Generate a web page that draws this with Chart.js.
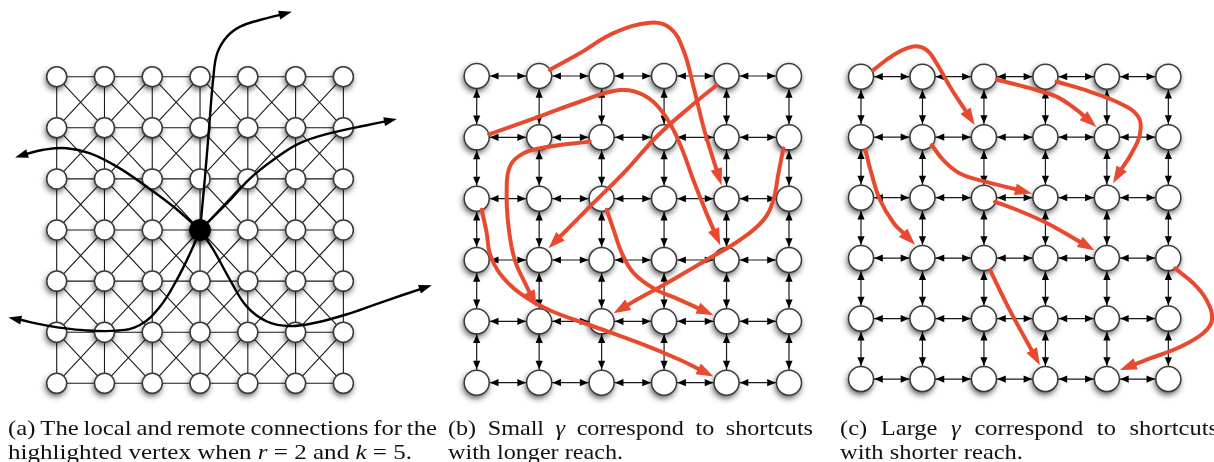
<!DOCTYPE html>
<html>
<head>
<meta charset="utf-8">
<script src="https://cdn.jsdelivr.net/npm/chart.js@4.4.0/dist/chart.umd.min.js"></script>
<style>
  html, body { margin: 0; padding: 0; background: #fff; }
  canvas { display: block; }
</style>
</head>
<body>
<canvas id="fig" width="1214" height="462"></canvas>
<script>
// lattice sizes (grid units)
const colsA = [0, 1, 2, 3, 4, 5, 6];
const rowsA = [0, 1, 2, 3, 4, 5, 6];
const colsB = [0, 1, 2, 3, 4, 5];
const rowsB = [0, 1, 2, 3, 4, 5];
const colsC = [0, 1, 2, 3, 4, 5];
const rowsC = [0, 1, 2, 3, 4, 5];
const hubA = [3, 3];

// remote links of the hub in (a): waypoints in grid units, last one is the arrow tip
const linksA = [
  [[3, 3], [3.10, 2.00], [3.19, 0.99], [3.28, 0], [3.36, -0.46], [3.56, -0.78], [3.84, -0.98], [4.25, -1.11], [4.92, -1.27]],
  [[3, 3], [3.56, 2.48], [4.05, 1.99], [4.53, 1.63], [5.09, 1.30], [5.79, 1.09], [6.49, 0.95], [7.12, 0.83]],
  [[3, 3], [2.44, 2.54], [1.88, 2.15], [1.26, 1.76], [0.70, 1.50], [0.21, 1.40], [-0.28, 1.43], [-0.63, 1.51], [-0.87, 1.58]],
  [[3, 3], [2.79, 3.46], [2.51, 3.98], [2.16, 4.50], [1.74, 4.86], [1.26, 4.97], [0.56, 4.96], [-0.14, 4.88], [-1.01, 4.71]],
  [[3, 3], [3.28, 3.39], [3.63, 3.98], [3.98, 4.50], [4.40, 4.79], [4.88, 4.88], [5.44, 4.81], [6.14, 4.63], [6.84, 4.40], [7.85, 4.08]]
];

// shortcuts in (b), small gamma
const shortcutsB = [
  [[1.17, -0.10], [1.65, -0.37], [2.19, -0.70], [2.78, -0.87], [3.10, -0.78], [3.31, -0.42], [3.47, 0.17], [3.63, 0.83], [3.79, 1.37], [3.92, 1.78]],
  [[0.20, 0.95], [1.01, 0.66], [1.65, 0.42], [2.29, 0.23], [2.67, 0.31], [2.99, 0.61], [3.25, 1.10], [3.47, 1.70], [3.68, 2.24], [3.90, 2.76]],
  [[3.84, 0.15], [3.42, 0.50], [2.88, 0.99], [2.40, 1.53], [1.87, 2.07], [1.49, 2.46], [1.15, 2.81]],
  [[1.81, 1.07], [1.17, 1.15], [0.75, 1.26], [0.53, 1.48], [0.48, 1.91], [0.51, 2.46], [0.61, 3.00], [0.80, 3.43], [0.96, 3.77]],
  [[4.91, 1.18], [4.83, 1.59], [4.75, 2.02], [4.59, 2.35], [4.22, 2.67], [3.68, 3.00], [3.04, 3.38], [2.56, 3.65], [2.19, 3.87]],
  [[2.08, 2.18], [2.19, 2.50], [2.32, 2.88], [2.51, 3.21], [2.83, 3.46], [3.25, 3.65], [3.79, 3.90]],
  [[0.08, 2.18], [0.16, 2.56], [0.21, 2.89], [0.37, 3.22], [0.69, 3.54], [1.17, 3.82], [1.81, 4.06], [2.62, 4.36], [3.26, 4.63], [3.79, 4.90]]
];

// shortcuts in (c), large gamma
const shortcutsC = [
  [[0.20, -0.11], [0.53, -0.36], [0.85, -0.50], [1.07, -0.44], [1.23, -0.22], [1.45, 0.17], [1.66, 0.50], [1.85, 0.80]],
  [[2.21, 0.05], [2.75, 0.19], [3.18, 0.33], [3.51, 0.55], [3.83, 0.83]],
  [[3.18, 0.08], [3.73, 0.25], [4.21, 0.44], [4.51, 0.66], [4.54, 0.94], [4.40, 1.27], [4.21, 1.57], [4.10, 1.76]],
  [[1.15, 1.13], [1.34, 1.38], [1.61, 1.60], [2.04, 1.74], [2.78, 1.93]],
  [[0.07, 1.21], [0.17, 1.60], [0.31, 2.04], [0.53, 2.42], [0.88, 2.78]],
  [[2.18, 2.07], [2.53, 2.20], [3.02, 2.42], [3.80, 2.87]],
  [[2.10, 3.20], [2.42, 3.86], [2.91, 4.77]],
  [[5.11, 3.17], [5.41, 3.42], [5.62, 3.69], [5.71, 4.02], [5.57, 4.24], [5.19, 4.47], [4.70, 4.66], [4.21, 4.85]]
];

const captionA = ['(a) The local and remote connections for the', 'highlighted vertex when r = 2 and k = 5.'];
const captionB = ['(b) Small γ correspond to shortcuts', 'with longer reach.'];
const captionC = ['(c) Large γ correspond to shortcuts', 'with shorter reach.'];
const mathSymbols = ['r', 'k', 'γ'];

// --- layout ---
const W = 1214, H = 462;
const RED = '#e84a30';
const frames = {
  a: { x0: 56.7, dx: 47.78, y0: 76.7, dy: 51.1, r: 10 },
  b: { x0: 476.7, dx: 62.46, y0: 76, dy: 61.33, r: 12.5 },
  c: { x0: 861, dx: 61.47, y0: 76.7, dy: 60.47, r: 12.5 }
};
const captionBoxes = [
  { lines: captionA, x: 8, w1: 429, w2: 404 },
  { lines: captionB, x: 448, w1: 365, w2: 175 },
  { lines: captionC, x: 840, w1: 378, w2: 183 }
];
const baselines = [434.5, 458.5];

function gridPoints(cols, rows) {
  const pts = [];
  rows.forEach(r => cols.forEach(c => pts.push({ x: c, y: r })));
  return pts;
}

// polylines separated by null points
function latticeLines(cols, rows, diagonals) {
  const pts = [];
  const brk = x => pts.push({ x: x, y: null });
  rows.forEach(r => { cols.forEach(c => pts.push({ x: c, y: r })); brk(0); });
  cols.forEach(c => { rows.forEach(r => pts.push({ x: c, y: r })); brk(c); });
  if (diagonals) {
    for (let i = 0; i < cols.length - 1; i++) {
      for (let j = 0; j < rows.length - 1; j++) {
        pts.push({ x: cols[i], y: rows[j] }, { x: cols[i + 1], y: rows[j + 1] }); brk(0);
        pts.push({ x: cols[i + 1], y: rows[j] }, { x: cols[i], y: rows[j + 1] }); brk(0);
      }
    }
  }
  return pts;
}

// pull the line end back so the arrowhead covers it
function shortenPath(path, f, len) {
  const n = path.length;
  const tx = f.x0 + path[n - 1][0] * f.dx, ty = f.y0 + path[n - 1][1] * f.dy;
  const px = f.x0 + path[n - 2][0] * f.dx, py = f.y0 + path[n - 2][1] * f.dy;
  const d = Math.hypot(tx - px, ty - py);
  const bx = tx - (tx - px) / d * len, by = ty - (ty - py) / d * len;
  return path.slice(0, n - 1).concat([[(bx - f.x0) / f.dx, (by - f.y0) / f.dy]])
    .map(([x, y]) => ({ x, y }));
}

function axisPair(key) {
  const f = frames[key];
  return {
    ['x' + key]: { type: 'linear', display: false, min: -f.x0 / f.dx, max: (W - f.x0) / f.dx },
    ['y' + key]: { type: 'linear', display: false, reverse: true, min: -f.y0 / f.dy, max: (H - f.y0) / f.dy }
  };
}

const datasets = [];

// shadow pass (fill only) under a clean node pass
function addNodes(key, pts, r, fill, border, order) {
  const common = { showLine: false, pointRadius: r, xAxisID: 'x' + key, yAxisID: 'y' + key };
  datasets.push(Object.assign({ data: pts, pointBackgroundColor: fill, pointBorderWidth: 0, order: order + 0.5, shadow: true }, common));
  datasets.push(Object.assign({ data: pts, pointBackgroundColor: fill, pointBorderColor: border, pointBorderWidth: 1.5, order: order }, common));
}

function addPanel(key, cols, rows, opts) {
  const f = frames[key];
  datasets.push({
    data: latticeLines(cols, rows, opts.diagonals),
    showLine: true, spanGaps: false, tension: 0,
    borderColor: '#1a1a1a', borderWidth: opts.diagonals ? 1.1 : 1.2,
    pointRadius: 0, xAxisID: 'x' + key, yAxisID: 'y' + key, order: 6,
    gridHeads: opts.gridHeads ? { cols, rows, r: f.r } : null
  });
  addNodes(key, gridPoints(cols, rows), f.r, '#fff', '#3a3a3a', 4);
  opts.paths.forEach(p => {
    datasets.push({
      data: shortenPath(p, f, opts.headLen * 0.8),
      rawPath: p,
      showLine: true, tension: 0.4, borderColor: opts.color, borderWidth: opts.width,
      borderCapStyle: 'round', pointRadius: 0,
      xAxisID: 'x' + key, yAxisID: 'y' + key, order: 1,
      head: { len: opts.headLen, half: opts.headHalf, color: opts.color }
    });
  });
}

addPanel('a', colsA, rowsA, { diagonals: true, paths: linksA, color: '#000', width: 2.4, headLen: 13, headHalf: 4.5 });
addNodes('a', [{ x: hubA[0], y: hubA[1] }], 10, '#000', '#000', 2);
addPanel('b', colsB, rowsB, { gridHeads: true, paths: shortcutsB, color: RED, width: 4, headLen: 17, headHalf: 6 });
addPanel('c', colsC, rowsC, { gridHeads: true, paths: shortcutsC, color: RED, width: 4, headLen: 17, headHalf: 6 });

function drawHead(ctx, tx, ty, ux, uy, len, half, color) {
  const bx = tx - ux * len, by = ty - uy * len;
  ctx.beginPath();
  ctx.moveTo(tx, ty);
  ctx.lineTo(bx - uy * half, by + ux * half);
  ctx.lineTo(bx + uy * half, by - ux * half);
  ctx.closePath();
  ctx.fillStyle = color;
  ctx.fill();
}

function drawGridHeads(chart, ds) {
  const ctx = chart.ctx;
  const xs = chart.scales[ds.xAxisID], ys = chart.scales[ds.yAxisID];
  const g = ds.gridHeads;
  const edges = [];
  g.rows.forEach(r => g.cols.forEach(c => {
    if (c < g.cols[g.cols.length - 1]) edges.push([c, r, c + 1, r]);
    if (r < g.rows[g.rows.length - 1]) edges.push([c, r, c, r + 1]);
  }));
  edges.forEach(([c1, r1, c2, r2]) => {
    const ax = xs.getPixelForValue(c1), ay = ys.getPixelForValue(r1);
    const bx = xs.getPixelForValue(c2), by = ys.getPixelForValue(r2);
    const d = Math.hypot(bx - ax, by - ay), ux = (bx - ax) / d, uy = (by - ay) / d;
    const off = g.r + 0.8;
    drawHead(ctx, bx - ux * off, by - uy * off, ux, uy, 8.5, 3.6, '#000');
    drawHead(ctx, ax + ux * off, ay + uy * off, -ux, -uy, 8.5, 3.6, '#000');
  });
}

function tokenFont(t) {
  return (mathSymbols.includes(t) ? 'italic ' : '') + '22px "Liberation Serif", "Times New Roman", serif';
}

function drawWords(ctx, words, x, y, sx, gap) {
  let cx = x;
  words.forEach(w => {
    ctx.font = tokenFont(w);
    ctx.save();
    ctx.translate(cx, y);
    ctx.scale(sx, 1);
    ctx.fillText(w, 0, 0);
    ctx.restore();
    cx += ctx.measureText(w).width * sx + gap;
  });
}

function drawCaptions(chart) {
  const ctx = chart.ctx;
  ctx.save();
  ctx.fillStyle = '#111';
  ctx.textBaseline = 'alphabetic';
  captionBoxes.forEach(box => {
    const lw = box.lines.map(l => l.split(' '));
    const widths = ws => ws.reduce((s, w) => { ctx.font = tokenFont(w); return s + ctx.measureText(w).width; }, 0);
    ctx.font = tokenFont('a');
    const space = ctx.measureText(' ').width;
    // second line keeps natural spacing and sets the stretch
    const n2 = lw[1].length;
    const sx = box.w2 / (widths(lw[1]) + space * (n2 - 1));
    drawWords(ctx, lw[1], box.x, baselines[1], sx, space * sx);
    // first line is justified
    const n1 = lw[0].length;
    const wordsW = widths(lw[0]);
    let sx1 = sx;
    let gap = (box.w1 - wordsW * sx) / (n1 - 1);
    if (gap < space * sx * 0.8) {
      sx1 = box.w1 / (wordsW + space * 0.8 * (n1 - 1));
      gap = space * sx1 * 0.8;
    }
    drawWords(ctx, lw[0], box.x, baselines[0], sx1, gap);
  });
  ctx.restore();
}

const figurePlugin = {
  id: 'figure',
  beforeDatasetDraw(chart, args) {
    const ds = chart.data.datasets[args.index];
    if (ds.shadow) {
      const ctx = chart.ctx;
      ctx.save();
      ctx.shadowColor = 'rgba(0,0,0,0.7)';
      ctx.shadowBlur = 6;
      ctx.shadowOffsetX = -1;
      ctx.shadowOffsetY = 3;
    }
  },
  afterDatasetDraw(chart, args) {
    const ds = chart.data.datasets[args.index];
    if (ds.shadow) chart.ctx.restore();
    if (ds.gridHeads) drawGridHeads(chart, ds);
  },
  afterDatasetsDraw(chart) {
    const ctx = chart.ctx;
    chart.data.datasets.forEach(ds => {
      if (!ds.head) return;
      const xs = chart.scales[ds.xAxisID], ys = chart.scales[ds.yAxisID];
      const p = ds.rawPath, n = p.length;
      const tx = xs.getPixelForValue(p[n - 1][0]), ty = ys.getPixelForValue(p[n - 1][1]);
      const px = xs.getPixelForValue(p[n - 2][0]), py = ys.getPixelForValue(p[n - 2][1]);
      const d = Math.hypot(tx - px, ty - py);
      drawHead(ctx, tx, ty, (tx - px) / d, (ty - py) / d, ds.head.len, ds.head.half, ds.head.color);
    });
  },
  afterDraw(chart) {
    drawCaptions(chart);
  }
};

new Chart(document.getElementById('fig'), {
  type: 'scatter',
  data: { datasets },
  options: {
    responsive: false,
    animation: false,
    devicePixelRatio: 1,
    events: [],
    layout: { padding: 0, autoPadding: false },
    plugins: { legend: { display: false }, tooltip: { enabled: false } },
    scales: Object.assign({}, axisPair('a'), axisPair('b'), axisPair('c'))
  },
  plugins: [figurePlugin]
});
</script>
</body>
</html>
